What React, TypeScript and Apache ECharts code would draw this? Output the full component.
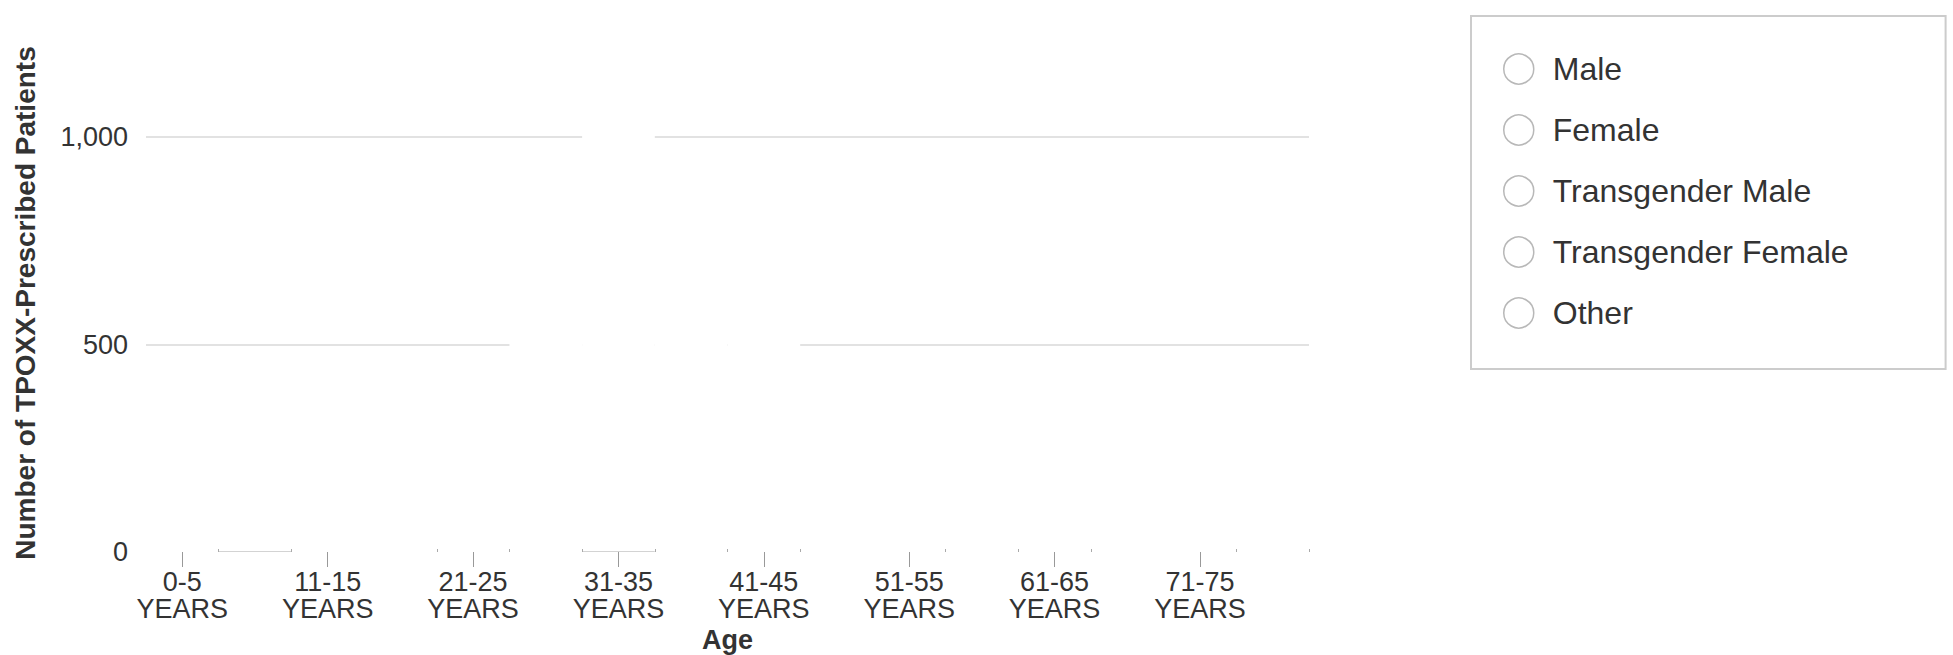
import React, { useEffect, useRef } from "react";
import * as echarts from "echarts";

const ageGroups = [
  "0-5 YEARS", "6-10 YEARS", "11-15 YEARS", "16-20 YEARS", "21-25 YEARS", "26-30 YEARS",
  "31-35 YEARS", "36-40 YEARS", "41-45 YEARS", "46-50 YEARS", "51-55 YEARS", "56-60 YEARS",
  "61-65 YEARS", "66-70 YEARS", "71-75 YEARS", "76-80 YEARS",
];
const legendNames = ["Male", "Female", "Transgender Male", "Transgender Female", "Other"];
const maleValues = [2, 1, 3, 20, 180, 560, 1040, 700, 540, 380, 230, 120, 50, 20, 6, 2];
const femaleValues = [1, 1, 1, 3, 10, 15, 20, 15, 12, 10, 8, 5, 3, 2, 1, 0];
const transMaleValues = [0, 0, 0, 1, 3, 5, 6, 4, 3, 2, 1, 0, 0, 0, 0, 0];
const transFemaleValues = [0, 0, 0, 2, 8, 15, 18, 12, 8, 5, 3, 1, 0, 0, 0, 0];
const otherValues = [0, 0, 0, 1, 5, 10, 12, 8, 6, 4, 2, 1, 0, 0, 0, 0];
const stubValues = [null, 2, null, null, null, null, 2, null, null, null, null, null, null, null, null, null];
const yTicks = [0, 500, 1000];
const stubEdgeIndices = [1, 2, 4, 5, 6, 7, 8, 9, 11, 12, 13, 15];

const FONT = "'Liberation Sans', Arial, Helvetica, sans-serif";

export default function App() {
  const ref = useRef<HTMLDivElement>(null);
  useEffect(() => {
    if (!ref.current) return;
    const chart = echarts.init(ref.current, null, { renderer: "svg" });
    const seriesData = [maleValues, femaleValues, transMaleValues, transFemaleValues, otherValues];
    const option: any = {
      animation: false,
      backgroundColor: "#fff",
      textStyle: { fontFamily: FONT },
      grid: { left: 146, right: 644, top: 54, bottom: 103, containLabel: false, outerBoundsMode: "none" },
      legend: {
        data: legendNames,
        orient: "vertical",
        left: 1471,
        top: 16,
        padding: [37, 97, 40, 32],
        borderColor: "#cccccc",
        borderWidth: 2,
        icon: "circle",
        itemWidth: 30,
        itemHeight: 30,
        itemGap: 29,
        selectedMode: false,
        itemStyle: { color: "#ffffff", borderColor: "#b8b8b8", borderWidth: 1.5 },
        textStyle: { fontSize: 32, color: "#333333", fontFamily: FONT, padding: [0, 0, 0, 14] },
      },
      xAxis: [
        {
          type: "category",
          data: ageGroups,
          position: "bottom",
          z: 10,
          name: "Age",
          nameLocation: "middle",
          nameGap: 74,
          nameTextStyle: { fontSize: 27, lineHeight: 27, fontWeight: "bold", color: "#333333", fontFamily: FONT },
          axisLine: { show: false },
          axisTick: { show: true, alignWithLabel: true, interval: 1, length: 15, lineStyle: { color: "#999999", width: 1 } },
          axisLabel: {
            interval: 1,
            fontSize: 27,
            lineHeight: 27,
            color: "#333333",
            margin: 16,
            fontFamily: FONT,
            formatter: (v: string) => v.replace(" ", "\n"),
          },
          splitLine: { show: false },
        },
        {
          type: "category",
          data: ageGroups,
          position: "bottom",
          z: 10,
          axisLine: { show: false },
          axisLabel: { show: false },
          splitLine: { show: false },
          axisTick: {
            show: true,
            inside: true,
            length: 3,
            interval: (index: number) => stubEdgeIndices.includes(index),
            lineStyle: { color: "#aaaaaa", width: 1 },
          },
        },
      ],
      yAxis: {
        type: "value",
        min: 0,
        max: 1200,
        interval: 500,
        name: "Number of TPOXX-Prescribed Patients",
        nameLocation: "middle",
        nameGap: 107,
        nameTextStyle: { fontSize: 28, fontWeight: "bold", color: "#333333", fontFamily: FONT },
        axisLine: { show: false },
        axisTick: { show: false },
        axisLabel: {
          fontSize: 27,
          color: "#333333",
          margin: 18,
          fontFamily: FONT,
          showMaxLabel: false,
          formatter: (v: number) => (yTicks.includes(v) ? v.toLocaleString("en-US") : ""),
        },
        splitLine: {
          show: true,
          lineStyle: { color: ["transparent", "#d8d8d8", "#d8d8d8", "transparent"], width: 1.5 },
        },
      },
      series: [
        {
          name: "stub",
          type: "bar",
          stack: "total",
          barCategoryGap: "0%",
          data: stubValues,
          itemStyle: { color: "#b0b0b0" },
          silent: true,
        },
        ...legendNames.map((name, i) => ({
          name,
          type: "bar",
          stack: "total",
          barCategoryGap: "0%",
          data: seriesData[i],
          itemStyle: { color: "#ffffff" },
        })),
      ],
    };
    chart.setOption(option);
    return () => chart.dispose();
  }, []);
  return (
    <div
      ref={ref}
      style={{ position: "fixed", left: 0, top: 0, width: 1953, height: 655, background: "#fff" }}
    />
  );
}
